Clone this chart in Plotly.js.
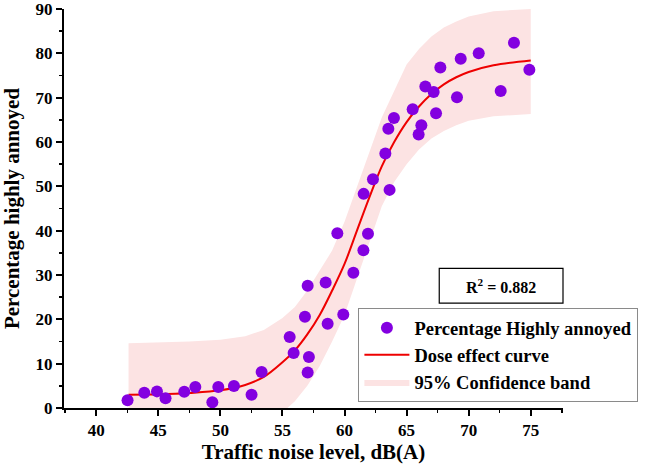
<!DOCTYPE html>
<html><head><meta charset="utf-8">
<script src="https://cdn.plot.ly/plotly-3.0.1.min.js"></script>
<style>html,body{margin:0;padding:0;background:#fff}#chart{width:657px;height:474px}</style>
</head><body><div id="chart"></div>
<script>
// Observed data: traffic noise level dB(A) vs percentage highly annoyed
const noiseLevel = [42.52,43.87,44.89,45.58,47.09,47.98,49.35,49.83,51.09,52.51,53.32,
  55.58,55.90,56.81,57.03,57.13,57.03,58.48,58.64,59.90,60.71,61.52,59.42,61.89,
  61.54,62.29,63.63,63.29,63.53,63.98,65.97,66.19,65.49,66.51,67.37,67.18,67.72,
  69.06,69.36,70.81,72.58,73.65,74.89];
const pctHighlyAnnoyed = [1.73,3.46,3.75,2.18,3.68,4.72,1.28,4.72,4.95,3.0,8.1,
  16.0,12.4,20.6,27.6,11.5,8.0,28.3,19.0,21.1,30.5,35.6,39.4,39.3,
  48.3,51.6,49.2,57.4,63.0,65.4,61.7,63.8,67.4,72.5,66.5,71.3,76.8,
  70.1,78.8,80.0,71.5,82.4,76.3];

// Dose effect curve and 95% confidence band
const curveX = [42.6,45,47.5,50,52,53.5,55,56,57,58,59,60,61,62,63,64,65,66,67,68,69,70,72,75];
const curveY = [3.0,3.1,3.4,4.0,5.2,7.0,10.3,13.0,16.6,21.0,26.5,32.5,40.0,47.5,54.5,60.0,64.5,68.0,70.8,73.0,74.6,75.8,77.3,78.4];
const bandUpper = [14.6,14.8,15.0,15.4,16.2,17.6,20.3,22.8,26.5,31.0,35.5,42.0,50.0,58.0,65.5,71.5,77.5,81.0,83.8,85.8,87.2,88.3,89.5,90.0];
const bandLower = [-8.6,-8.4,-8.0,-7.0,-5.5,-3.5,-1.0,1.5,5.0,9.5,15.0,21.0,29.0,37.5,45.5,51.0,55.0,58.3,60.8,62.5,63.8,64.8,65.8,66.3];

const xTickVals = [40,45,50,55,60,65,70,75];
const yTickVals = [0,10,20,30,40,50,60,70,80,90];

const serif = "Liberation Serif";
const purple = "#8300e0";
const pink = "rgb(252,227,227)";

const traces = [
  {x: curveX, y: bandLower, type: "scatter", mode: "lines", line: {width: 0, color: pink},
   showlegend: false, hoverinfo: "skip"},
  {x: curveX, y: bandUpper, type: "scatter", mode: "lines", line: {width: 0, color: pink},
   fill: "tonexty", fillcolor: pink, name: "95% Confidence band", legendrank: 3},
  {x: curveX, y: curveY, type: "scatter", mode: "lines", line: {color: "#ee0000", width: 2, shape: "spline"},
   name: "Dose effect curve", legendrank: 2},
  {x: noiseLevel, y: pctHighlyAnnoyed, type: "scatter", mode: "markers",
   marker: {color: purple, size: 12}, name: "Percentage Highly annoyed", legendrank: 1}
];

const axisCommon = {
  showgrid: false, zeroline: false, showline: true, linecolor: "#000", linewidth: 2,
  ticks: "outside", ticklen: 6, tickwidth: 2, tickcolor: "#000",
  ticklabeloverflow: "allow",
  tickfont: {family: serif, size: 17, color: "#000", weight: "bold"}
};

const layout = {
  width: 657, height: 474,
  margin: {l: 64, r: 94, t: 9, b: 66, autoexpand: false},
  paper_bgcolor: "#fff", plot_bgcolor: "#fff",
  font: {family: serif, color: "#000"},
  showlegend: true,
  legend: {x: 0.59, y: 0.25, xanchor: "left", yanchor: "top", traceorder: "normal",
    bordercolor: "#8a8a8a", borderwidth: 1, bgcolor: "rgba(255,255,255,0)",
    itemwidth: 45, tracegroupgap: 0,
    font: {family: serif, size: 18.5, color: "#000", weight: "bold"}},
  xaxis: Object.assign({}, axisCommon, {
    range: [37.4, 77.6], tickvals: xTickVals, ticktext: xTickVals.map(String),
    minor: {dtick: 2.5, tick0: 37.5, ticks: "outside", ticklen: 3, tickwidth: 1.5, tickcolor: "#000"},
    title: {text: "Traffic noise level, dB(A)", standoff: 4,
      font: {family: serif, size: 21, color: "#000", weight: "bold"}}
  }),
  yaxis: Object.assign({}, axisCommon, {
    range: [0, 90], tickvals: yTickVals, ticktext: yTickVals.map(String),
    minor: {dtick: 5, tick0: 0, ticks: "outside", ticklen: 3, tickwidth: 1.5, tickcolor: "#000"},
    title: {text: "Percentage highly annoyed", standoff: 12,
      font: {family: serif, size: 21, color: "#000", weight: "bold"}}
  }),
  shapes: [
    {type: "rect", xref: "paper", yref: "paper", x0: 0.752, x1: 1.0, y0: 0.263, y1: 0.35,
     line: {color: "#000", width: 1.2}, fillcolor: "rgba(0,0,0,0)"}
  ],
  annotations: [
    {xref: "paper", yref: "paper", x: 0.876, y: 0.307, xanchor: "center", yanchor: "middle", showarrow: false,
     text: "R<sup>2</sup> = 0.882", font: {family: serif, size: 16, color: "#000", weight: "bold"}}
  ]
};

Plotly.newPlot("chart", traces, layout, {displayModeBar: false, staticPlot: true});
</script>
</body></html>
